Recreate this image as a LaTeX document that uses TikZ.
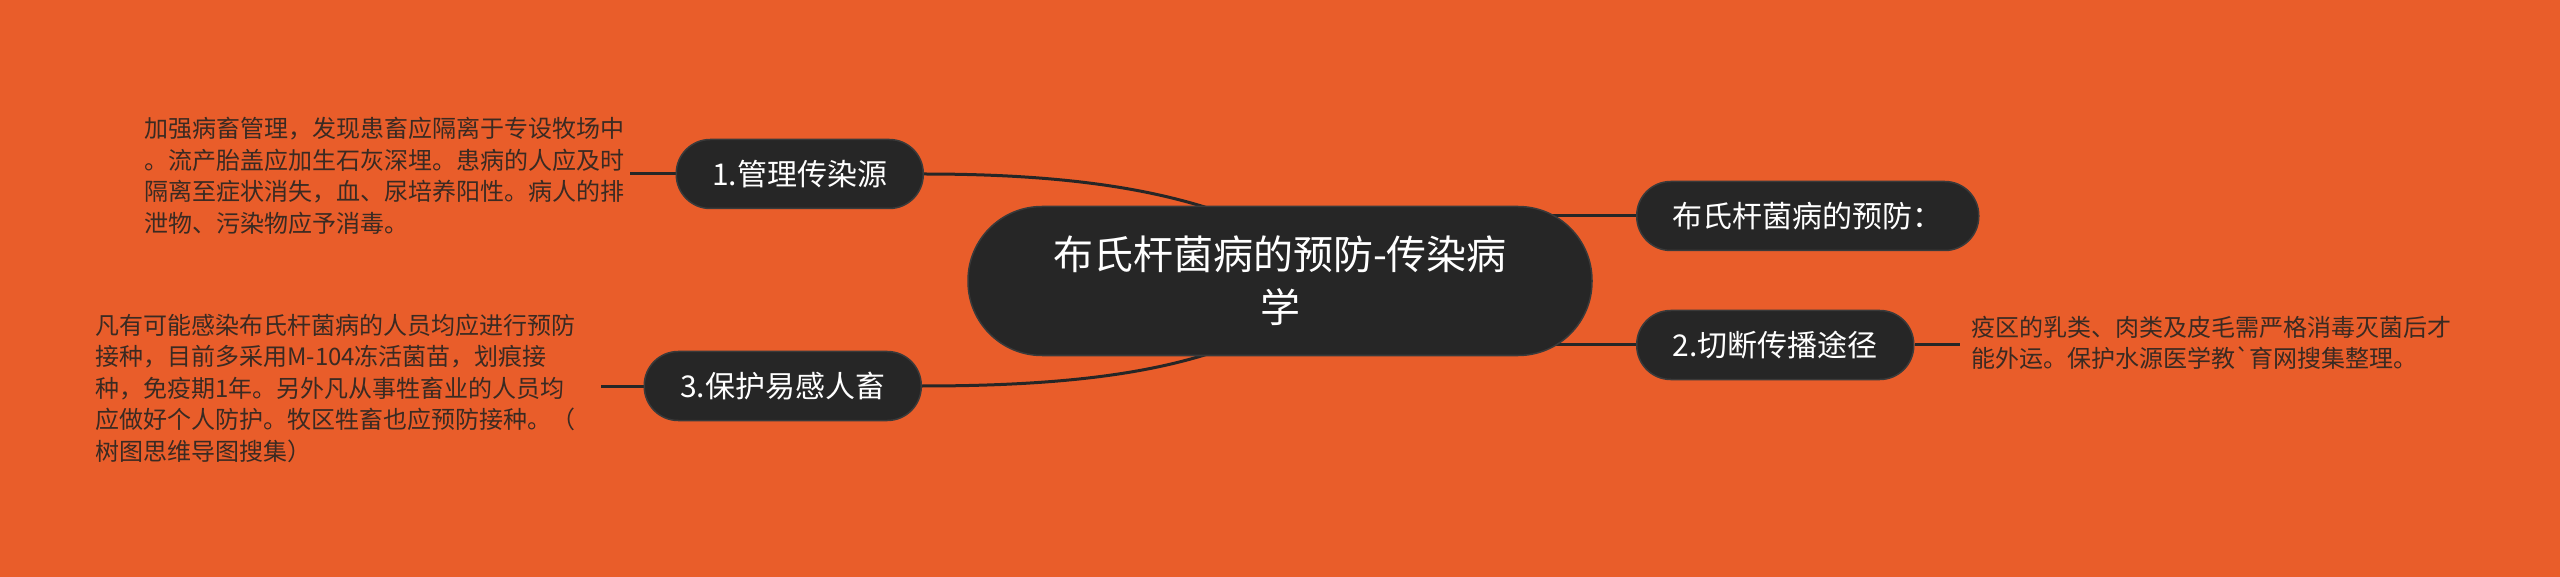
\documentclass[tikz,border=0pt]{standalone}
\usepackage{fontspec}
\setmainfont{Noto Sans CJK SC}[Ligatures=TeXOff]
\usetikzlibrary{calc}
\definecolor{bgor}{HTML}{E95D2A}
\definecolor{nodefill}{HTML}{262626}
\definecolor{nodeedge}{HTML}{3A3A3A}
\definecolor{linec}{HTML}{262626}
\definecolor{txtc}{HTML}{3A2A22}
\pgfdeclarelayer{bgfill}
\pgfdeclarelayer{edges}
\pgfsetlayers{bgfill,edges,main}
\begin{document}
\begin{tikzpicture}[x={(1pt,0pt)}, y={(0pt,-1pt)},
  topic/.style={draw=nodeedge, line width=1.5pt, fill=nodefill, text=white,
    rounded corners=34pt, minimum height=69pt, inner xsep=36pt, inner ysep=0pt,
    font=\fontsize{30}{36}\selectfont},
  central/.style={draw=nodeedge, line width=1.5pt, fill=nodefill, text=white,
    rounded corners=74pt, minimum width=624pt, minimum height=149pt, align=center,
    inner ysep=0pt, font=\fontsize{40}{53}\selectfont},
  note/.style={text=txtc, align=left, inner sep=0pt, anchor=west,
    font=\fontsize{24}{31.5}\selectfont},
  conn/.style={draw=linec, line width=3pt}]
\useasboundingbox (0,0) rectangle (2560,577);
\begin{pgfonlayer}{bgfill}
\fill[bgor] (0,0) rectangle (2560,577);
\end{pgfonlayer}

\node[central] (c) at (1280,281) {布氏杆菌病的预防-传染病\\学};
\node[topic, anchor=east] (n1) at (924,174) {1.管理传染源};
\node[topic, anchor=east] (n3) at (922,386) {3.保护易感人畜};
\node[topic, anchor=west] (n0) at (1636,216) {布氏杆菌病的预防：};
\node[topic, anchor=west] (n2) at (1636,345) {2.切断传播途径};

\node[note] (t1) at (144,176) {加强病畜管理，发现患畜应隔离于专设牧场中\\。流产胎盖应加生石灰深埋。患病的人应及时\\隔离至症状消失，血、尿培养阳性。病人的排\\泄物、污染物应予消毒。};
\node[note] (t3) at (95,388) {凡有可能感染布氏杆菌病的人员均应进行预防\\接种，目前多采用M-104冻活菌苗，划痕接\\种，免疫期1年。另外凡从事牲畜业的人员均\\应做好个人防护。牧区牲畜也应预防接种。（\\树图思维导图搜集）};
\node[note] (t2) at (1971,343) {疫区的乳类、肉类及皮毛需严格消毒灭菌后才\\能外运。保护水源医学教`育网搜集整理。};

\coordinate (e1) at (630,174);
\coordinate (e3) at (601,386);
\coordinate (e2) at (1960,345);

\begin{pgfonlayer}{edges}
\draw[conn] (n1.east) .. controls (1060,174) and (1150,188) .. (1220,212);
\draw[conn] (n3.east) .. controls (1060,386) and (1150,374) .. (1220,350);
\draw[conn] (n0.west) -- (n0.west -| c.center);
\draw[conn] (n2.west) -- (n2.west -| c.center);
\draw[conn] (e1) -- (n1.west);
\draw[conn] (e3) -- (n3.west);
\draw[conn] (n2.east) -- (e2);
\end{pgfonlayer}
\end{tikzpicture}
\end{document}
